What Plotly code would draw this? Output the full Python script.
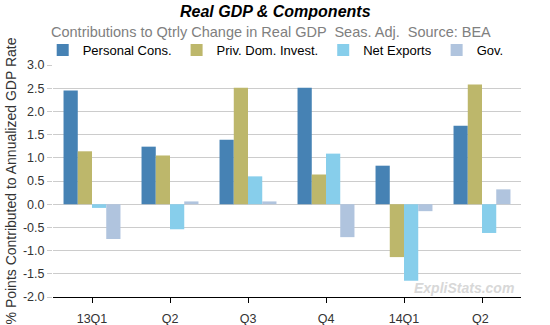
import plotly.graph_objects as go

quarters = ["13Q1", "Q2", "Q3", "Q4", "14Q1", "Q2 "]
personal_cons = [2.45, 1.24, 1.39, 2.51, 0.83, 1.69]
priv_dom_invest = [1.14, 1.05, 2.51, 0.64, -1.14, 2.58]
net_exports = [-0.08, -0.54, 0.60, 1.09, -1.65, -0.62]
gov = [-0.75, 0.06, 0.06, -0.71, -0.15, 0.32]

series_names = ["Personal Cons.", "Priv. Dom. Invest.", "Net Exports", "Gov."]
colors = ["#4682B4", "#BDB76B", "#87CEEB", "#B0C4DE"]
ytick_vals = [3.0, 2.5, 2.0, 1.5, 1.0, 0.5, 0.0, -0.5, -1.0, -1.5, -2.0]
ytick_text = ["3.0", "2.5", "2.0", "1.5", "1.0", "0.5", "0.0", "-0.5", "-1.0", "-1.5", "-2.0"]

FONT = "Liberation Sans, Arial, sans-serif"

fig = go.Figure()
for name, vals, col in zip(series_names, [personal_cons, priv_dom_invest, net_exports, gov], colors):
    fig.add_trace(go.Bar(x=quarters, y=vals, name=name,
                         marker=dict(color=col, line=dict(width=0))))

fig.update_layout(
    width=550, height=325,
    margin=dict(l=53, r=29, t=65, b=28, autoexpand=False),
    paper_bgcolor="white", plot_bgcolor="white",
    font=dict(family=FONT, size=12, color="#333333"),
    barmode="group", bargap=0.27, bargroupgap=0,
    showlegend=True,
    legend=dict(orientation="h", x=-0.022, xanchor="left", y=1.0, yanchor="bottom",
                font=dict(size=13, color="#000000"), itemwidth=30,
                bgcolor="rgba(0,0,0,0)", traceorder="normal"),
    xaxis=dict(showline=True, linecolor="black", linewidth=1, ticks="outside",
               ticklen=5, tickcolor="black", showgrid=False, ticklabelstandoff=5,
               automargin=False,
               tickfont=dict(size=12.5, color="#333333")),
    yaxis=dict(range=[-2.0, 3.0], tickvals=ytick_vals, ticktext=ytick_text,
               showgrid=True, gridcolor="#cccccc", gridwidth=1, zeroline=False,
               showline=False, ticks="outside", ticklen=5, tickcolor="#cccccc",
               automargin=False,
               tickfont=dict(size=12.5, color="#333333"),
               title=dict(text="% Points Contributed to Annualized GDP Rate",
                          font=dict(size=14, color="#333333"), standoff=3)),
    annotations=[
        dict(text="<b><i>Real GDP & Components</i></b>", xref="paper", yref="paper",
             x=(275 - 53) / 468, y=1.0, yshift=54, xanchor="center", yanchor="middle",
             showarrow=False, font=dict(size=16, color="#000000")),
        dict(text="Contributions to Qtrly Change in Real GDP  Seas. Adj.  Source: BEA",
             xref="paper", yref="paper", x=(271 - 53) / 468, y=1.0, yshift=33,
             xanchor="center", yanchor="middle", showarrow=False,
             font=dict(size=14.5, color="#808080")),
        dict(text="<b><i>ExpliStats.com</i></b>", xref="paper", yref="paper",
             x=0.99, y=0.0, yshift=9, xanchor="right", yanchor="middle",
             showarrow=False, font=dict(size=14, color="#d8d8d8")),
    ],
)

fig.write_html("out.html")
